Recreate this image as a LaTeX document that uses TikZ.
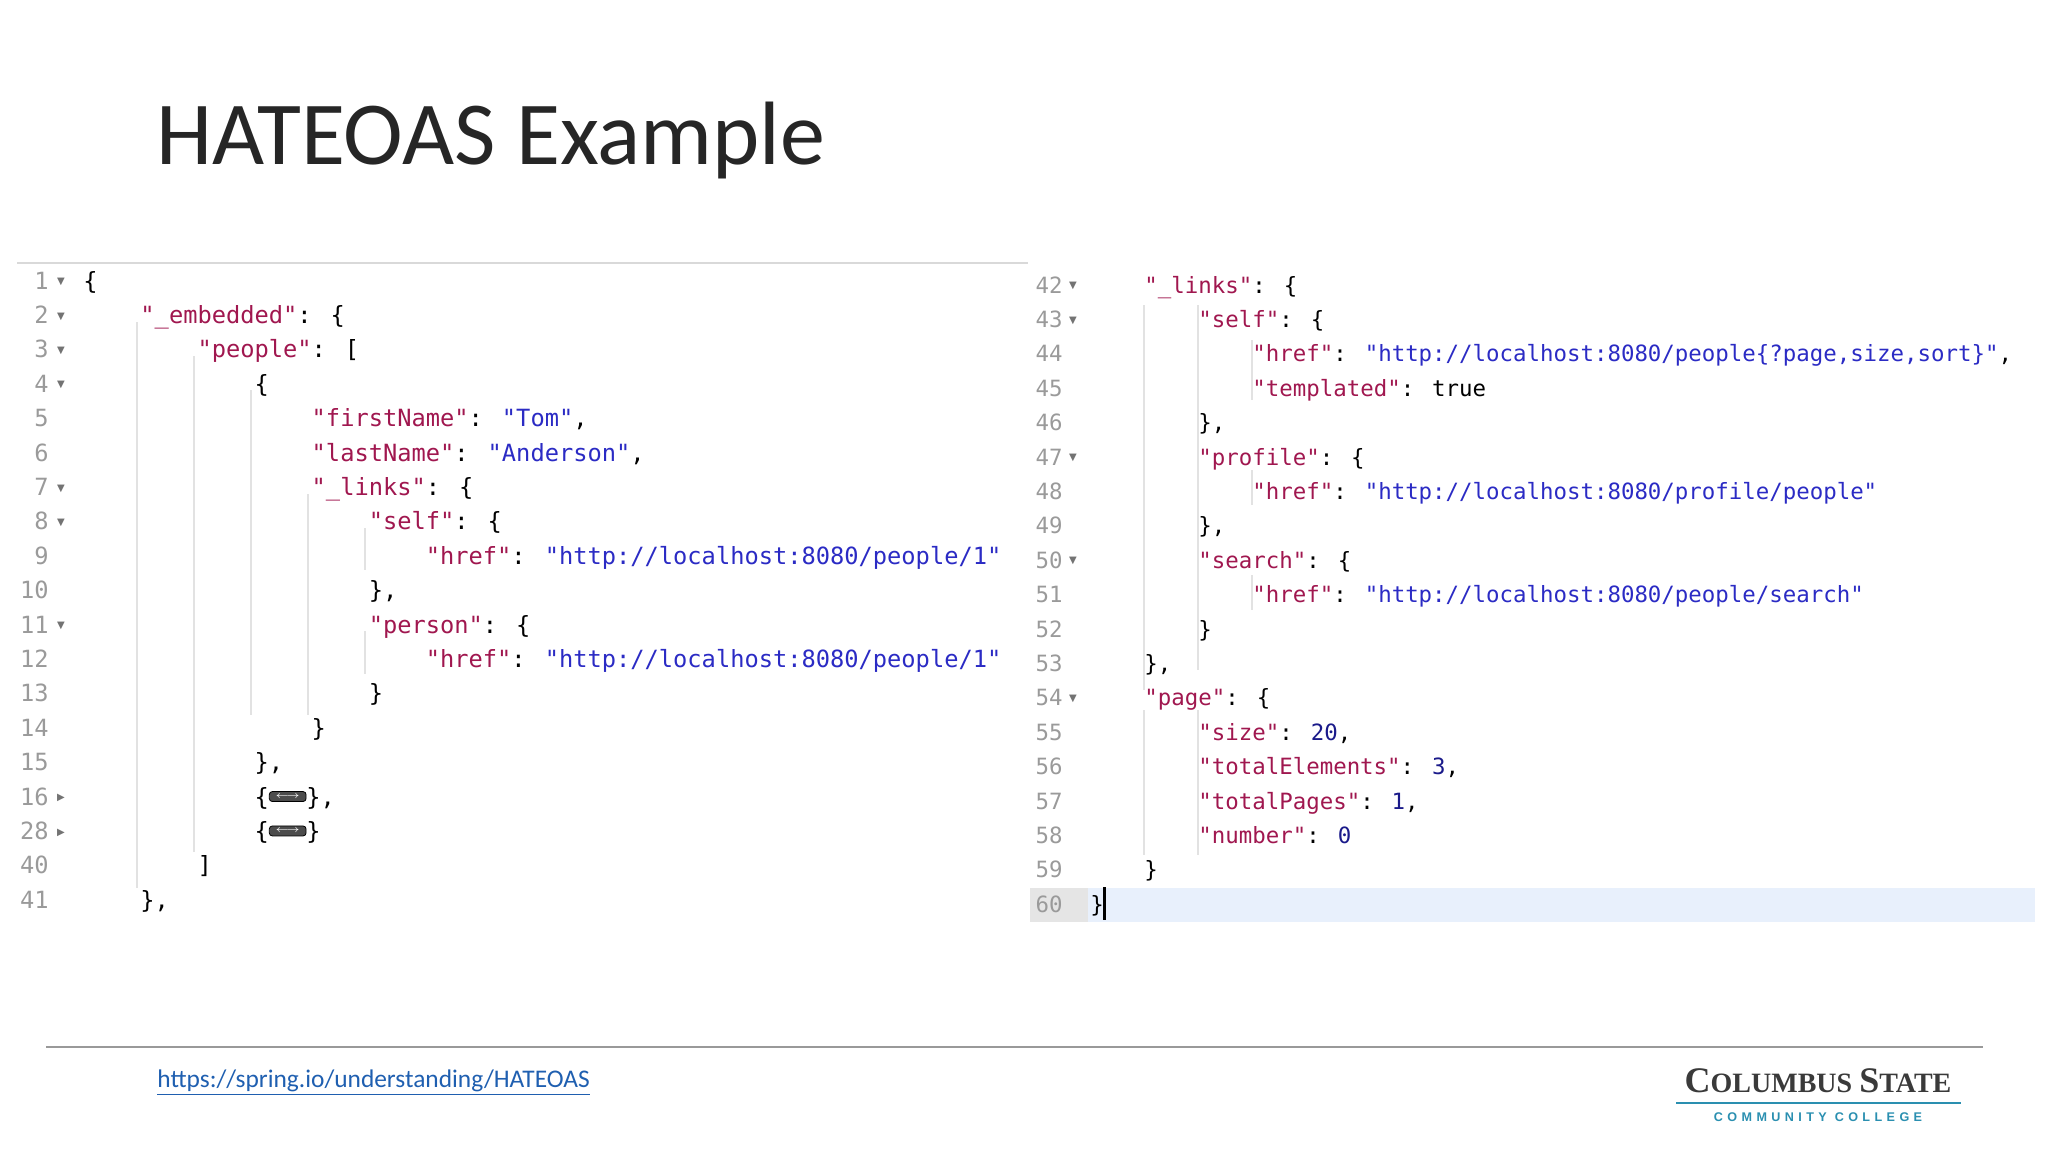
\documentclass[tikz,border=0pt]{standalone}
\usepackage{fontspec}
\setmainfont{Carlito}
\newfontfamily\codefont{DejaVu Sans Mono}
\newfontfamily\symfont{DejaVu Sans}
\newfontfamily\logofont{Liberation Serif}
\newfontfamily\logosans{Liberation Sans}
\definecolor{keyc}{HTML}{A0174F}
\definecolor{strc}{HTML}{2B2BC4}
\definecolor{numc}{HTML}{1A1A8A}
\definecolor{gutc}{HTML}{9A9A9A}
\definecolor{guide}{HTML}{E2E2E2}
\definecolor{hl}{HTML}{E8F0FC}
\definecolor{linkc}{HTML}{1F5FB0}
\definecolor{logoc}{HTML}{3A3A3A}
\definecolor{logob}{HTML}{2A8FB0}
\newcommand\K[1]{\textcolor{keyc}{#1}}
\newcommand\St[1]{\textcolor{strc}{#1}}
\newcommand\Nm[1]{\textcolor{numc}{#1}}
\newcommand\Bx{\tikz[baseline=-0.5ex]\node[fill=black!70,draw=black,rounded corners=1.5pt,inner xsep=3pt,inner ysep=1.5pt,text=white!70]{\tiny$\longleftrightarrow$};}
\tikzset{
  codeL/.style={anchor=base west,inner sep=0,font=\codefont\fontsize{11.85}{14}\selectfont},
  codeR/.style={anchor=base west,inner sep=0,font=\codefont\fontsize{11.2}{14}\selectfont},
  gutL/.style={anchor=base east,inner sep=0,text=gutc,font=\codefont\fontsize{11.85}{14}\selectfont},
  gutR/.style={anchor=base east,inner sep=0,text=gutc,font=\codefont\fontsize{11.2}{14}\selectfont},
  foldmark/.style={inner sep=0,text=black!55,font=\symfont\fontsize{5}{6}\selectfont},
  guideline/.style={draw=guide,line width=0.6pt},
}
\newcommand\Lr[4]{\node[gutL] (ln#1) at (49,{289+#1*34.4}) {#2};
  \node[codeL] (lc#1) at ({83+#3*14.27},{289+#1*34.4}) {#4};}
\newcommand\Rr[4]{\node[gutR] (rn#1) at (1063,{293+#1*34.4}) {#2};
  \node[codeR] (rc#1) at ({1090+#3*13.5},{293+#1*34.4}) {#4};}
\newcommand\Lf[2]{\node[foldmark] (lf#1) at (61,{282+#1*34.4}) {#2};}
\newcommand\Rf[2]{\node[foldmark] (rf#1) at (1073,{286+#1*34.4}) {#2};}
\begin{document}
\begin{tikzpicture}[x=0.5pt,y=-0.5pt]
\useasboundingbox (0,0) rectangle (2048,1152);
\node[anchor=base west,inner sep=0,font=\fontsize{45}{52}\selectfont,text=black!85] (title) at (156,164) {HATEOAS Example};
% left panel
\draw[black!15,line width=1pt] (17,263) -- (1028,263);
\fill[hl] (1030,888) rectangle (2035,922);
\fill[black!10] (1030,888) rectangle (1088,922);
% guides left
\draw[guideline] (137,322) -- (137,888);
\draw[guideline] (194,356) -- (194,852);
\draw[guideline] (251,390) -- (251,715);
\draw[guideline] (308,494) -- (308,715);
\draw[guideline] (365,528) -- (365,570);
\draw[guideline] (365,631) -- (365,674);
% guides right
\draw[guideline] (1144,305) -- (1144,690);
\draw[guideline] (1198,305) -- (1198,670);
\draw[guideline] (1198,710) -- (1198,855);
\draw[guideline] (1144,710) -- (1144,855);
\draw[guideline] (1252,340) -- (1252,400);
\draw[guideline] (1252,470) -- (1252,505);
\draw[guideline] (1252,575) -- (1252,610);
\Lr{0}{1}{0}{\{}
\Lr{1}{2}{4}{\K{"\_embedded"}: \{}
\Lr{2}{3}{8}{\K{"people"}: [}
\Lr{3}{4}{12}{\{}
\Lr{4}{5}{16}{\K{"firstName"}: \St{"Tom"},}
\Lr{5}{6}{16}{\K{"lastName"}: \St{"Anderson"},}
\Lr{6}{7}{16}{\K{"\_links"}: \{}
\Lr{7}{8}{20}{\K{"self"}: \{}
\Lr{8}{9}{24}{\K{"href"}: \St{"http://localhost:8080/people/1"}}
\Lr{9}{10}{20}{\},}
\Lr{10}{11}{20}{\K{"person"}: \{}
\Lr{11}{12}{24}{\K{"href"}: \St{"http://localhost:8080/people/1"}}
\Lr{12}{13}{20}{\}}
\Lr{13}{14}{16}{\}}
\Lr{14}{15}{12}{\},}
\Lr{15}{16}{12}{\{\Bx\},}
\Lr{16}{28}{12}{\{\Bx\}}
\Lr{17}{40}{8}{]}
\Lr{18}{41}{4}{\},}
\foreach \r in {0,1,2,3,6,7,10} {\Lf{\r}{▼}}
\foreach \r in {15,16} {\Lf{\r}{▶}}
\Rr{0}{42}{4}{\K{"\_links"}: \{}
\Rr{1}{43}{8}{\K{"self"}: \{}
\Rr{2}{44}{12}{\K{"href"}: \St{"http://localhost:8080/people\{?page,size,sort\}"},}
\Rr{3}{45}{12}{\K{"templated"}: true}
\Rr{4}{46}{8}{\},}
\Rr{5}{47}{8}{\K{"profile"}: \{}
\Rr{6}{48}{12}{\K{"href"}: \St{"http://localhost:8080/profile/people"}}
\Rr{7}{49}{8}{\},}
\Rr{8}{50}{8}{\K{"search"}: \{}
\Rr{9}{51}{12}{\K{"href"}: \St{"http://localhost:8080/people/search"}}
\Rr{10}{52}{8}{\}}
\Rr{11}{53}{4}{\},}
\Rr{12}{54}{4}{\K{"page"}: \{}
\Rr{13}{55}{8}{\K{"size"}: \Nm{20},}
\Rr{14}{56}{8}{\K{"totalElements"}: \Nm{3},}
\Rr{15}{57}{8}{\K{"totalPages"}: \Nm{1},}
\Rr{16}{58}{8}{\K{"number"}: \Nm{0}}
\Rr{17}{59}{4}{\}}
\Rr{18}{60}{0}{\}}
\draw[black,line width=1.5pt] (1104,887) -- (1104,920);
\foreach \r in {0,1,5,8,12} {\Rf{\r}{▼}}
% footer
\draw[black!40,line width=1pt] (46,1047) -- (1983,1047);
\node[anchor=base west,inner sep=0,text=linkc,font=\fontsize{12.7}{14}\selectfont] (link) at (157,1087) {\underline{https://spring.io/understanding/HATEOAS}};
\node[anchor=base,inner sep=0,text=logoc,font=\logofont\bfseries] (logo) at (1818,1092) {{\fontsize{18}{20}\selectfont C}{\fontsize{14}{16}\selectfont OLUMBUS }{\fontsize{18}{20}\selectfont S}{\fontsize{14}{16}\selectfont TATE}};
\draw[logob,line width=1.2pt] (1676,1103) -- (1961,1103);
\node[anchor=base,inner sep=0,text=logob,font=\logosans\bfseries\fontsize{6.3}{8}\selectfont\addfontfeature{LetterSpace=35}] (cc) at (1818,1121) {COMMUNITY COLLEGE};
\end{tikzpicture}
\end{document}
